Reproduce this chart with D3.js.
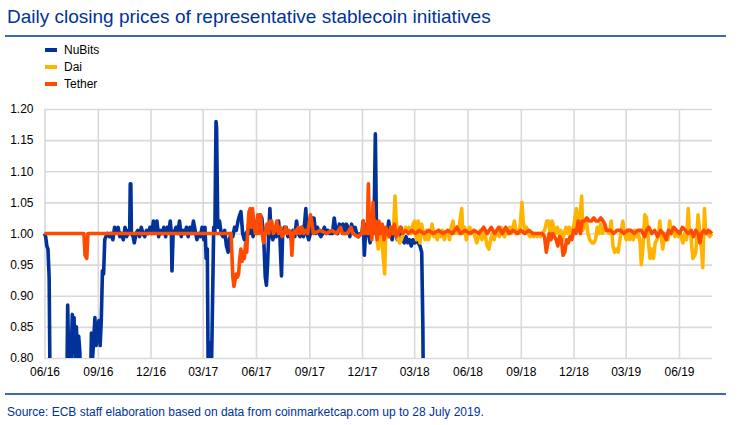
<!DOCTYPE html>
<html><head><meta charset="utf-8">
<script src="https://cdn.jsdelivr.net/npm/d3@7"></script>
<style>
body{margin:0;background:#fff}
svg{display:block}
text{font-family:"Liberation Sans",Arial,sans-serif}
</style>
</head><body>
<svg id="chart" width="743" height="425"></svg>
<script>
// ---------------- DATA ----------------
const seriesNames = ["NuBits", "Dai", "Tether"];
const seriesColors = ["#003299", "#FFB400", "#FF4B00"];

const yTicks = [0.80, 0.85, 0.90, 0.95, 1.00, 1.05, 1.10, 1.15, 1.20];
const xTickDates = ["2016-06-01","2016-09-01","2016-12-01","2017-03-01","2017-06-01","2017-09-01","2017-12-01","2018-03-01","2018-06-01","2018-09-01","2018-12-01","2019-03-01","2019-06-01"];
const xTickLabels = ["06/16","09/16","12/16","03/17","06/17","09/17","12/17","03/18","06/18","09/18","12/18","03/19","06/19"];

const nubitsDates = ["2016-06-01","2016-06-03","2016-06-05","2016-06-07","2016-06-09","2016-06-12","2016-07-01","2016-07-09","2016-07-11","2016-07-13","2016-07-16","2016-07-19","2016-07-21","2016-07-22","2016-07-24","2016-07-26","2016-07-28","2016-07-30","2016-08-01","2016-08-03","2016-08-10","2016-08-17","2016-08-19","2016-08-21","2016-08-23","2016-08-25","2016-08-27","2016-08-29","2016-09-01","2016-09-03","2016-09-05","2016-09-07","2016-09-09","2016-09-11","2016-09-13","2016-09-15","2016-09-18","2016-09-21","2016-09-24","2016-09-27","2016-09-30","2016-10-03","2016-10-06","2016-10-09","2016-10-12","2016-10-15","2016-10-18","2016-10-21","2016-10-24","2016-10-26","2016-10-27","2016-10-28","2016-10-29","2016-11-01","2016-11-03","2016-11-06","2016-11-09","2016-11-12","2016-11-15","2016-11-18","2016-11-21","2016-11-24","2016-11-27","2016-11-30","2016-12-03","2016-12-06","2016-12-09","2016-12-12","2016-12-15","2016-12-18","2016-12-21","2016-12-24","2016-12-27","2016-12-30","2017-01-02","2017-01-04","2017-01-06","2017-01-07","2017-01-09","2017-01-12","2017-01-14","2017-01-17","2017-01-20","2017-01-23","2017-01-26","2017-01-29","2017-02-01","2017-02-04","2017-02-07","2017-02-10","2017-02-13","2017-02-16","2017-02-19","2017-02-22","2017-02-25","2017-02-28","2017-03-03","2017-03-05","2017-03-07","2017-03-09","2017-03-11","2017-03-12","2017-03-14","2017-03-15","2017-03-17","2017-03-20","2017-03-22","2017-03-24","2017-03-25","2017-03-27","2017-03-30","2017-04-02","2017-04-05","2017-04-08","2017-04-11","2017-04-14","2017-04-16","2017-04-19","2017-04-22","2017-04-25","2017-04-28","2017-05-01","2017-05-04","2017-05-06","2017-05-09","2017-05-12","2017-05-15","2017-05-18","2017-05-21","2017-05-24","2017-05-27","2017-05-30","2017-06-02","2017-06-05","2017-06-08","2017-06-11","2017-06-14","2017-06-17","2017-06-19","2017-06-21","2017-06-23","2017-06-25","2017-06-27","2017-06-30","2017-07-03","2017-07-06","2017-07-10","2017-07-12","2017-07-15","2017-07-17","2017-07-20","2017-07-23","2017-07-26","2017-07-29","2017-08-01","2017-08-04","2017-08-07","2017-08-10","2017-08-13","2017-08-16","2017-08-19","2017-08-22","2017-08-26","2017-08-28","2017-08-31","2017-09-03","2017-09-06","2017-09-09","2017-09-12","2017-09-15","2017-09-18","2017-09-21","2017-09-24","2017-09-27","2017-09-30","2017-10-03","2017-10-06","2017-10-11","2017-10-14","2017-10-17","2017-10-20","2017-10-23","2017-10-26","2017-10-29","2017-11-01","2017-11-04","2017-11-07","2017-11-10","2017-11-13","2017-11-16","2017-11-19","2017-11-22","2017-11-25","2017-11-28","2017-12-01","2017-12-03","2017-12-05","2017-12-07","2017-12-09","2017-12-12","2017-12-15","2017-12-18","2017-12-22","2017-12-24","2017-12-26","2017-12-29","2018-01-01","2018-01-04","2018-01-07","2018-01-10","2018-01-13","2018-01-16","2018-01-19","2018-01-22","2018-01-25","2018-01-28","2018-01-31","2018-02-03","2018-02-06","2018-02-09","2018-02-12","2018-02-15","2018-02-18","2018-02-21","2018-02-24","2018-02-27","2018-03-02","2018-03-05","2018-03-08","2018-03-11","2018-03-14","2018-03-16","2018-03-18"];
const nubitsValues = [1.00,0.995,0.98,0.975,0.93,0.60,0.55,0.70,0.885,0.79,0.76,0.87,0.83,0.865,0.79,0.85,0.80,0.835,0.81,0.70,0.60,0.65,0.74,0.84,0.80,0.83,0.865,0.82,0.85,0.86,0.82,0.86,0.94,0.935,0.99,0.995,1.00,0.995,1.00,0.99,1.01,1.005,1.01,0.995,1.00,0.99,1.01,0.995,1.005,1.00,1.08,1.08,1.00,0.995,0.985,1.00,1.005,0.995,1.01,1.00,0.995,1.005,1.00,1.01,1.00,1.02,1.005,1.02,0.995,1.005,1.00,1.01,0.995,1.01,1.005,1.02,1.00,0.94,1.00,1.005,1.01,1.00,1.02,0.995,1.005,1.00,1.01,0.995,1.01,1.00,1.02,1.005,0.99,1.00,0.995,1.01,0.99,1.01,0.96,0.975,0.70,0.75,0.825,0.72,0.83,1.01,1.00,1.18,1.17,1.01,1.02,1.00,0.995,1.005,0.98,0.97,0.99,1.00,0.995,1.01,1.005,1.02,1.03,1.035,1.00,0.99,1.00,1.005,1.00,1.01,0.995,1.02,1.00,1.01,1.03,1.025,1.00,0.93,0.917,0.95,1.00,1.04,1.00,0.99,1.00,0.995,1.02,1.00,0.932,1.00,1.01,1.01,0.995,1.00,0.99,1.005,0.995,1.02,1.00,0.995,1.01,0.995,1.04,1.00,0.99,1.00,1.025,1.025,1.00,1.01,1.00,0.995,1.00,1.01,1.00,1.005,1.00,1.00,1.025,1.005,1.00,1.015,1.01,1.015,1.00,1.015,1.01,0.995,1.015,1.005,1.01,1.00,0.995,1.00,1.00,1.02,0.965,1.00,1.015,1.00,0.985,1.01,1.03,1.16,1.00,0.99,1.005,1.00,1.01,1.00,0.995,1.02,1.00,0.99,1.015,1.00,0.99,1.005,1.01,0.99,0.985,0.995,0.985,0.99,0.98,0.99,0.985,0.99,0.985,0.98,0.97,0.85,0.60];

const daiDates = ["2017-12-27","2017-12-29","2018-01-01","2018-01-04","2018-01-06","2018-01-09","2018-01-11","2018-01-14","2018-01-17","2018-01-20","2018-01-24","2018-01-27","2018-01-29","2018-02-01","2018-02-04","2018-02-07","2018-02-10","2018-02-14","2018-02-17","2018-02-20","2018-02-24","2018-02-27","2018-03-02","2018-03-05","2018-03-08","2018-03-11","2018-03-14","2018-03-17","2018-03-20","2018-03-23","2018-03-26","2018-03-29","2018-04-01","2018-04-04","2018-04-07","2018-04-10","2018-04-13","2018-04-16","2018-04-19","2018-04-22","2018-04-25","2018-04-28","2018-05-01","2018-05-04","2018-05-07","2018-05-10","2018-05-13","2018-05-16","2018-05-19","2018-05-22","2018-05-24","2018-05-27","2018-05-30","2018-06-02","2018-06-05","2018-06-08","2018-06-11","2018-06-14","2018-06-17","2018-06-20","2018-06-23","2018-06-26","2018-06-29","2018-07-02","2018-07-05","2018-07-08","2018-07-11","2018-07-14","2018-07-17","2018-07-20","2018-07-23","2018-07-26","2018-07-29","2018-08-01","2018-08-04","2018-08-07","2018-08-10","2018-08-13","2018-08-16","2018-08-21","2018-08-24","2018-08-27","2018-08-30","2018-09-03","2018-09-05","2018-09-08","2018-09-11","2018-09-14","2018-09-17","2018-09-20","2018-09-23","2018-09-26","2018-09-29","2018-10-02","2018-10-05","2018-10-08","2018-10-12","2018-10-16","2018-10-19","2018-10-22","2018-10-25","2018-10-28","2018-10-31","2018-11-03","2018-11-06","2018-11-09","2018-11-12","2018-11-15","2018-11-18","2018-11-21","2018-11-24","2018-11-27","2018-12-01","2018-12-06","2018-12-09","2018-12-12","2018-12-15","2018-12-17","2018-12-19","2018-12-23","2018-12-26","2018-12-29","2019-01-02","2019-01-05","2019-01-08","2019-01-11","2019-01-14","2019-01-17","2019-01-20","2019-01-23","2019-01-26","2019-02-01","2019-02-04","2019-02-07","2019-02-10","2019-02-13","2019-02-16","2019-02-19","2019-02-24","2019-02-27","2019-03-02","2019-03-05","2019-03-08","2019-03-11","2019-03-14","2019-03-17","2019-03-20","2019-03-23","2019-03-26","2019-03-28","2019-03-31","2019-04-03","2019-04-06","2019-04-09","2019-04-12","2019-04-15","2019-04-18","2019-04-21","2019-04-24","2019-04-27","2019-04-29","2019-05-02","2019-05-04","2019-05-07","2019-05-10","2019-05-13","2019-05-16","2019-05-19","2019-05-22","2019-05-25","2019-05-28","2019-05-31","2019-06-03","2019-06-06","2019-06-08","2019-06-11","2019-06-14","2019-06-17","2019-06-19","2019-06-21","2019-06-23","2019-06-25","2019-06-28","2019-06-30","2019-07-02","2019-07-04","2019-07-07","2019-07-10","2019-07-12","2019-07-15","2019-07-17","2019-07-20","2019-07-24","2019-07-28"];
const daiValues = [0.99,0.975,1.00,0.99,0.97,0.935,1.00,0.995,1.00,1.01,1.00,1.06,1.02,0.99,0.985,0.99,1.00,1.01,1.005,1.01,1.00,1.015,1.02,0.99,1.02,0.985,1.015,1.00,0.99,1.005,0.99,1.00,1.015,0.995,1.00,0.99,1.005,0.995,1.005,0.99,1.00,1.005,0.99,1.01,1.02,1.00,1.01,1.00,1.02,1.04,1.00,1.01,0.99,1.005,1.01,1.00,1.005,0.995,0.985,0.995,1.005,0.99,1.005,0.995,0.98,0.975,0.99,1.00,0.99,1.00,1.005,0.995,1.01,1.00,0.995,1.005,1.00,1.01,1.00,1.02,1.00,1.005,1.00,1.05,1.02,1.005,1.01,1.00,0.995,1.00,0.995,1.00,0.995,1.00,0.995,1.00,1.005,1.02,1.02,0.995,1.02,1.01,1.00,1.01,1.00,1.005,0.99,1.00,1.01,1.00,1.01,1.00,1.01,1.04,1.02,1.02,1.06,1.005,1.01,1.02,1.00,0.99,0.985,0.985,0.99,1.01,1.00,1.015,1.00,1.01,1.005,1.00,1.02,0.98,0.97,0.975,0.97,0.99,1.02,1.00,0.99,1.005,0.99,1.00,0.99,1.005,0.995,1.00,0.985,0.95,0.98,1.03,1.025,0.99,0.96,0.975,0.96,0.985,0.99,1.00,1.02,0.99,0.975,0.995,1.00,0.99,1.02,1.00,1.005,0.995,1.005,0.995,1.00,0.99,0.985,1.00,0.99,1.04,1.00,1.005,0.98,0.96,0.965,0.97,1.00,1.03,1.00,0.975,0.945,1.04,1.00,1.005,0.995,1.00];

const tetherDates = ["2016-06-01","2016-08-08","2016-08-10","2016-08-13","2016-08-15","2017-04-19","2017-04-22","2017-04-24","2017-04-26","2017-04-28","2017-04-30","2017-05-02","2017-05-04","2017-05-06","2017-05-08","2017-05-10","2017-05-12","2017-05-14","2017-05-16","2017-05-18","2017-05-20","2017-05-22","2017-05-24","2017-05-26","2017-05-28","2017-05-31","2017-06-02","2017-06-04","2017-06-06","2017-06-09","2017-06-11","2017-06-14","2017-06-17","2017-06-20","2017-06-23","2017-06-25","2017-06-28","2017-07-01","2017-07-04","2017-07-07","2017-07-10","2017-07-13","2017-07-16","2017-07-19","2017-07-22","2017-07-25","2017-07-28","2017-07-31","2017-08-02","2017-08-04","2017-08-07","2017-08-10","2017-08-13","2017-08-16","2017-08-19","2017-08-22","2017-08-25","2017-08-29","2017-09-03","2017-09-05","2017-09-08","2017-09-20","2017-10-01","2017-10-10","2017-10-18","2017-10-25","2017-10-28","2017-11-06","2017-11-12","2017-11-15","2017-11-24","2017-12-01","2017-12-03","2017-12-05","2017-12-08","2017-12-10","2017-12-12","2017-12-14","2017-12-16","2017-12-18","2017-12-20","2017-12-22","2017-12-24","2017-12-27","2017-12-30","2018-01-02","2018-01-05","2018-01-08","2018-01-11","2018-01-14","2018-01-17","2018-01-20","2018-01-23","2018-01-26","2018-01-29","2018-02-01","2018-02-05","2018-02-09","2018-02-14","2018-02-19","2018-02-25","2018-03-03","2018-03-10","2018-03-18","2018-03-26","2018-04-03","2018-04-12","2018-04-20","2018-04-28","2018-05-06","2018-05-14","2018-05-20","2018-05-28","2018-06-05","2018-06-13","2018-06-21","2018-06-29","2018-07-05","2018-07-12","2018-07-18","2018-07-25","2018-07-31","2018-08-06","2018-08-12","2018-08-19","2018-08-26","2018-09-01","2018-09-08","2018-09-15","2018-09-22","2018-10-08","2018-10-12","2018-10-15","2018-10-17","2018-10-20","2018-10-23","2018-10-26","2018-10-29","2018-11-01","2018-11-04","2018-11-07","2018-11-10","2018-11-13","2018-11-16","2018-11-19","2018-11-22","2018-11-25","2018-11-28","2018-12-01","2018-12-05","2018-12-09","2018-12-11","2018-12-13","2018-12-16","2018-12-20","2018-12-24","2018-12-28","2019-01-01","2019-01-05","2019-01-09","2019-01-13","2019-01-17","2019-01-21","2019-01-24","2019-01-27","2019-01-30","2019-02-03","2019-02-08","2019-02-14","2019-02-20","2019-02-26","2019-03-04","2019-03-10","2019-03-16","2019-03-22","2019-03-28","2019-04-03","2019-04-06","2019-04-10","2019-04-15","2019-04-20","2019-04-25","2019-04-30","2019-05-05","2019-05-10","2019-05-14","2019-05-18","2019-05-23","2019-05-28","2019-06-02","2019-06-07","2019-06-12","2019-06-17","2019-06-22","2019-06-26","2019-06-30","2019-07-04","2019-07-07","2019-07-10","2019-07-14","2019-07-18","2019-07-22","2019-07-28"];
const tetherValues = [1.00,1.00,0.965,0.96,1.00,1.00,0.93,0.915,0.925,0.935,0.93,0.935,0.96,0.975,0.955,0.97,0.96,0.985,0.97,1.01,1.035,1.04,1.01,1.04,1.02,1.00,1.00,1.03,1.00,1.03,1.005,0.985,1.00,1.015,1.00,1.02,1.02,1.00,1.005,1.02,1.00,1.01,0.995,1.00,1.01,1.00,1.005,1.00,0.965,1.00,1.005,1.00,1.01,1.00,1.01,1.00,1.005,1.00,1.03,1.02,1.00,1.005,1.00,1.005,1.00,1.01,1.00,1.00,1.01,1.00,0.995,1.00,1.02,1.00,1.01,1.00,1.08,1.00,1.01,0.99,1.05,1.00,1.02,0.99,1.02,1.00,1.015,0.99,1.01,1.00,0.995,1.01,1.00,1.015,0.995,1.00,1.01,1.00,1.005,1.00,1.005,1.00,1.005,1.00,1.005,1.00,1.005,1.00,1.005,1.00,1.01,1.00,1.005,1.00,1.005,1.00,1.01,1.00,1.01,1.00,1.01,1.00,1.01,1.00,1.005,1.00,1.005,1.00,1.005,1.00,1.00,0.995,0.97,0.98,1.00,0.99,1.00,0.995,0.99,0.98,0.995,0.99,0.965,0.97,0.99,0.985,0.995,0.99,1.005,1.00,1.02,1.005,1.00,1.02,1.02,1.025,1.02,1.02,1.025,1.02,1.02,1.025,1.02,1.015,1.005,1.005,1.005,1.00,1.005,1.005,1.00,1.005,1.005,1.00,1.005,1.005,0.995,1.005,1.01,1.00,1.005,0.995,1.005,1.00,0.99,1.005,1.00,1.01,1.005,1.00,1.01,1.005,1.00,1.005,0.995,1.005,1.00,0.985,1.00,1.005,1.00,1.005,1.00];

const titleText = "Daily closing prices of representative stablecoin initiatives";
const sourceText = "Source: ECB staff elaboration based on data from coinmarketcap.com up to 28 July 2019.";

// ---------------- CHART ----------------
const parse = d3.timeParse("%Y-%m-%d");
const ecbBlue = "#003299";
const svg = d3.select("#chart");
const plot = {left: 44.5, right: 712, top: 109, bottom: 358};

const x = d3.scaleTime()
  .domain([parse("2016-06-01"), parse("2019-07-28")])
  .range([plot.left, plot.right]);
const y = d3.scaleLinear().domain([0.80, 1.20]).range([plot.bottom, plot.top]);

// Title and rules
svg.append("text").attr("x", 7).attr("y", 23).attr("font-size", 19)
  .attr("fill", ecbBlue).text(titleText);
svg.append("line").attr("x1", 5).attr("x2", 726).attr("y1", 36).attr("y2", 36)
  .attr("stroke", ecbBlue).attr("stroke-width", 1.5);
svg.append("line").attr("x1", 5).attr("x2", 726).attr("y1", 394).attr("y2", 394)
  .attr("stroke", ecbBlue).attr("stroke-width", 1.5);
svg.append("text").attr("x", 7).attr("y", 416).attr("font-size", 12)
  .attr("fill", ecbBlue).text(sourceText);

// Legend
const legend = svg.append("g");
seriesNames.forEach((name, i) => {
  const cy = 50 + i * 17;
  legend.append("rect").attr("x", 45).attr("y", cy - 2).attr("width", 12).attr("height", 4)
    .attr("fill", seriesColors[i]);
  legend.append("text").attr("x", 64).attr("y", cy + 4).attr("font-size", 12)
    .attr("fill", "#000").text(name);
});

// Gridlines + axes
const yAxis = d3.axisLeft(y).tickValues(yTicks).tickFormat(d3.format(".2f"))
  .tickSize(-(plot.right - plot.left)).tickPadding(11);
const gy = svg.append("g").attr("transform", `translate(${plot.left},0)`).call(yAxis);
gy.select(".domain").remove();
gy.selectAll("line").attr("stroke", "#d9d9d9").attr("stroke-width", 1.6);
gy.selectAll("text").attr("font-size", 12).attr("fill", "#000")
  .attr("font-family", '"Liberation Sans",Arial,sans-serif');

const xTickValues = xTickDates.map(parse);
const xAxis = d3.axisBottom(x).tickValues(xTickValues)
  .tickFormat((d, i) => xTickLabels[i])
  .tickSize(-(plot.bottom - plot.top)).tickPadding(9.5);
const gx = svg.append("g").attr("transform", `translate(0,${plot.bottom})`).call(xAxis);
gx.select(".domain").remove();
gx.selectAll("line").attr("stroke", "#d9d9d9").attr("stroke-width", 1.6);
gx.selectAll("text").attr("font-size", 12).attr("fill", "#000")
  .attr("font-family", '"Liberation Sans",Arial,sans-serif');

// Clip
svg.append("clipPath").attr("id", "plotClip").append("rect")
  .attr("x", plot.left - 3).attr("y", plot.top - 20)
  .attr("width", plot.right - plot.left + 6).attr("height", plot.bottom - plot.top + 20);

const line = d3.line().x(d => x(d.date)).y(d => y(d.value));
const series = [
  {dates: nubitsDates, values: nubitsValues, color: seriesColors[0]},
  {dates: daiDates, values: daiValues, color: seriesColors[1]},
  {dates: tetherDates, values: tetherValues, color: seriesColors[2]}
];
const lines = svg.append("g").attr("clip-path", "url(#plotClip)");
series.forEach(s => {
  const data = s.dates.map((d, i) => ({date: parse(d), value: s.values[i]}));
  lines.append("path").datum(data).attr("d", line)
    .attr("fill", "none").attr("stroke", s.color).attr("stroke-width", 3.6)
    .attr("stroke-linejoin", "round").attr("stroke-linecap", "butt");
});
</script>
</body></html>
